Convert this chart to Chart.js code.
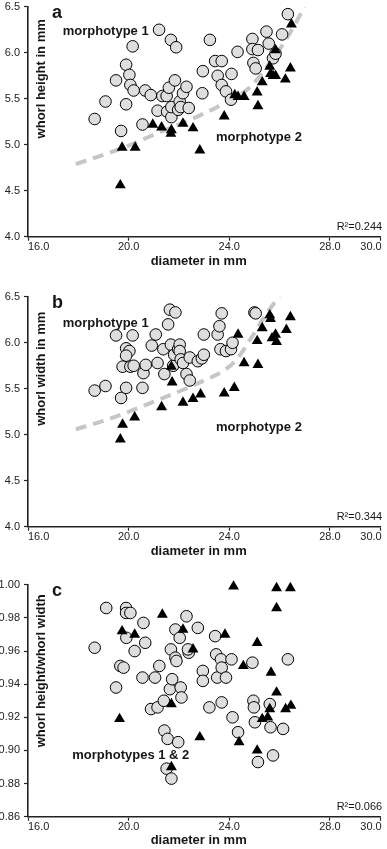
<!DOCTYPE html>
<html>
<head>
<meta charset="utf-8">
<script src="https://cdn.jsdelivr.net/npm/chart.js@4.4.1/dist/chart.umd.min.js"></script>
<style>
  html, body { margin: 0; padding: 0; background: #fff; }
  #wrap { position: relative; width: 387px; height: 849px; overflow: hidden; }
  canvas { position: absolute; left: 0; }
</style>
</head>
<body>
<div id="wrap">
  <canvas id="ca" width="387" height="290" style="top:0px"></canvas>
  <canvas id="cb" width="387" height="290" style="top:290px"></canvas>
  <canvas id="cc" width="387" height="271" style="top:578px"></canvas>
</div>
<script>
// ---------- tick labels ----------
const xTicks = [16, 20, 24, 28, 30];
const xTickLabels = ['16.0', '20.0', '24.0', '28.0', '30.0'];
const yTicksAB = [4.0, 4.5, 5.0, 5.5, 6.0, 6.5];
const yTickLabelsAB = ['4.0', '4.5', '5.0', '5.5', '6.0', '6.5'];
const yTicksC = [0.86, 0.88, 0.90, 0.92, 0.94, 0.96, 0.98, 1.00];
const yTickLabelsC = ['0.86', '0.88', '0.90', '0.92', '0.94', '0.96', '0.98', '1.00'];

// ---------- texts ----------
const xTitle = 'diameter in mm';
const yTitles = ['whorl height in mm', 'whorl width in mm', 'whorl height/whorl width'];
const panelLetters = ['a', 'b', 'c'];
const r2Texts = ['R\u00B2=0.244', 'R\u00B2=0.344', 'R\u00B2=0.066'];
const seriesNames = ['morphotype 1', 'morphotype 2', 'morphotypes 1 & 2'];

// ---------- panel a: whorl height ----------
const aCircleX = [18.65,19.08,19.50,19.70,19.90,20.03,19.90,20.07,20.16,20.20,20.55,20.66,20.88,21.15,21.21,21.34,21.51,21.60,21.53,21.68,21.70,21.70,21.84,21.89,21.97,22.03,22.07,22.16,22.30,22.39,22.95,22.93,23.23,23.44,23.54,23.70,23.70,23.87,24.09,24.07,24.33,24.92,24.92,24.96,25.05,25.14,25.48,25.57,25.74,25.84,26.10,26.33];
const aCircleY = [5.28,5.47,5.70,5.15,5.87,5.76,5.44,5.65,6.07,5.59,5.22,5.59,5.54,5.37,6.25,5.53,5.53,5.62,5.36,6.14,5.30,5.41,5.70,6.06,5.38,5.47,5.41,5.56,5.63,5.40,5.80,5.56,6.14,5.91,5.75,5.91,5.65,5.58,5.77,5.49,6.01,6.15,6.04,5.89,5.83,6.03,6.23,6.10,5.94,5.99,6.20,6.42];
const aTriX = [19.67,19.74,20.26,20.96,21.31,21.68,21.70,22.16,22.56,22.83,23.80,24.22,24.35,24.59,25.11,25.14,25.31,25.61,25.64,25.74,25.84,25.84,26.23,26.43,26.47];
const aTriY = [4.56,4.97,4.97,5.22,5.19,5.12,5.16,5.23,5.18,4.94,5.31,5.54,5.52,5.52,5.57,5.42,5.68,5.85,5.77,5.75,5.75,6.03,5.71,5.83,6.31];
const aFitX = [17.9, 19.0, 20.0, 21.0, 22.0, 23.0, 24.0, 24.8, 25.5, 26.2, 27.0];
const aFitY = [4.79, 4.89, 4.99, 5.11, 5.22, 5.34, 5.48, 5.62, 5.85, 6.12, 6.50];

// ---------- panel b: whorl width ----------
const bCircleX = [18.65,19.08,19.50,19.70,19.90,20.03,19.90,19.76,20.07,20.16,20.20,19.90,20.55,20.59,20.68,20.92,21.08,21.15,21.42,21.38,21.57,21.64,21.68,21.77,21.86,21.81,21.97,22.03,22.03,22.07,22.16,22.30,22.43,22.43,22.75,22.91,22.99,22.99,23.54,23.61,23.70,23.65,23.87,24.07,24.13,25.00,25.05];
const bCircleY = [5.48,5.53,6.08,5.40,5.94,5.91,5.86,5.74,5.74,6.08,5.75,5.51,5.51,5.67,5.76,5.97,6.09,5.78,5.66,5.93,6.20,6.36,5.98,5.75,6.33,5.87,5.93,5.98,5.91,5.82,5.78,5.66,5.59,5.84,5.80,5.83,5.87,6.09,6.09,6.18,6.32,5.93,5.91,5.93,6.00,6.33,6.32];
const bTriX = [19.67,19.76,20.24,21.31,21.70,21.73,22.16,22.56,22.86,23.80,24.20,24.35,24.59,25.11,25.14,25.31,25.61,25.64,25.70,25.84,25.88,26.27,26.43];
const bTriY = [4.95,5.11,5.19,5.30,5.74,5.57,5.35,5.39,5.44,5.45,5.51,6.09,5.78,6.02,5.76,6.16,6.30,6.26,6.05,6.09,6.01,6.14,6.28];
const bFitX = [17.9, 19.0, 20.0, 21.0, 22.0, 23.0, 23.8, 24.3, 24.8, 25.3, 25.7, 26.0];
const bFitY = [5.06, 5.15, 5.25, 5.36, 5.47, 5.59, 5.70, 5.82, 6.02, 6.24, 6.40, 6.50];

// ---------- panel c: ratio ----------
const cCircleX = [18.65,19.11,19.50,19.67,19.80,19.90,19.90,20.07,19.91,20.24,20.59,20.55,20.66,20.89,21.05,21.15,21.22,21.40,21.42,21.51,21.55,21.64,21.68,21.73,21.70,21.86,21.86,21.90,21.97,22.03,22.07,22.10,22.30,22.39,22.36,22.75,22.95,22.95,23.21,23.44,23.48,23.52,23.67,23.70,23.70,23.87,24.09,24.13,24.35,24.92,24.96,24.98,25.02,25.14,25.61,25.64,25.74,26.14,26.33];
const cCircleY = [0.962,0.986,0.938,0.951,0.950,0.986,0.983,0.983,0.968,0.960,0.977,0.944,0.965,0.925,0.944,0.926,0.951,0.930,0.912,0.889,0.907,0.937,0.961,0.943,0.883,0.973,0.956,0.954,0.905,0.968,0.938,0.932,0.981,0.959,0.961,0.974,0.948,0.942,0.926,0.969,0.958,0.944,0.955,0.950,0.929,0.944,0.955,0.920,0.911,0.953,0.930,0.926,0.917,0.893,0.928,0.914,0.897,0.913,0.955];
const cTriX = [19.64,19.74,20.24,21.34,21.70,21.70,22.16,22.56,22.83,23.83,24.17,24.39,24.56,25.11,25.11,25.31,25.53,25.66,25.61,25.88,25.88,25.88,26.24,26.43,26.45];
const cTriY = [0.919,0.972,0.970,0.982,0.928,0.890,0.973,0.961,0.908,0.970,0.999,0.905,0.951,0.965,0.900,0.919,0.920,0.947,0.925,0.998,0.986,0.935,0.925,0.998,0.927];

// ---------- helpers ----------
const FONT = '"Liberation Sans", Arial, Helvetica, sans-serif';
const TXT = '#161616';
const zip = (xs, ys) => xs.map((v, i) => ({x: v, y: ys[i]}));

const annotPlugin = {
  id: 'annot',
  afterDraw(chart) {
    const o = chart.options.plugins.annot;
    const {ctx, chartArea: ca} = chart;
    const xs = chart.scales.x, ys = chart.scales.y;
    ctx.save();
    ctx.fillStyle = TXT;
    ctx.font = 'bold 18px ' + FONT;
    ctx.textAlign = 'left';
    ctx.textBaseline = 'middle';
    ctx.fillText(o.letter, ca.left + 24, ca.top + 6);
    ctx.font = 'bold 13px ' + FONT;
    ctx.save();
    ctx.translate(ca.left + 13, ca.top + o.yTitleCenter);
    ctx.rotate(-Math.PI / 2);
    ctx.textAlign = 'center';
    ctx.fillText(o.yTitle, 0, 0);
    ctx.restore();
    ctx.textAlign = 'left';
    o.labels.forEach(l => ctx.fillText(l.text, xs.getPixelForValue(l.x), ys.getPixelForValue(l.y)));
    ctx.font = '11px ' + FONT;
    ctx.textAlign = 'right';
    ctx.fillText(o.r2, ca.right + 2, ca.bottom - 10);
    ctx.restore();
  }
};

function makeChart(canvasId, p) {
  const H = document.getElementById(canvasId).height;
  const xAxisH = p.xAxisH;
  return new Chart(document.getElementById(canvasId), {
    type: 'scatter',
    data: {
      datasets: [
        {
          data: zip(p.triX, p.triY),
          pointStyle: 'triangle',
          pointRadius: 6.3,
          backgroundColor: '#000',
          borderColor: '#000',
          borderWidth: 0,
          clip: false
        },
        {
          data: zip(p.cirX, p.cirY),
          pointStyle: 'circle',
          pointRadius: 5.8,
          backgroundColor: '#dedede',
          borderColor: '#000',
          borderWidth: 1,
          clip: false
        },
        {
          data: p.fitX ? zip(p.fitX, p.fitY) : [],
          showLine: true,
          pointRadius: 0,
          borderColor: '#c6c6c6',
          borderWidth: 4,
          borderDash: [11, 7],
          borderCapStyle: 'butt',
          tension: 0.4,
          cubicInterpolationMode: 'monotone',
          fill: false
        }
      ]
    },
    options: {
      responsive: false,
      animation: false,
      devicePixelRatio: 1,
      events: [],
      layout: { padding: { top: p.areaTop, bottom: H - p.areaBottom - xAxisH, left: 0, right: 3 } },
      plugins: {
        legend: { display: false },
        tooltip: { enabled: false },
        annot: p.annot
      },
      scales: {
        x: {
          type: 'linear',
          min: 16, max: 30,
          afterBuildTicks: s => { s.ticks = xTicks.map(v => ({value: v})); },
          afterFit: s => { s.height = xAxisH; s.paddingLeft = 0; s.paddingRight = 0; },
          ticks: {
            autoSkip: false, maxRotation: 0, minRotation: 0, padding: 0,
            color: '#222', font: { family: FONT, size: 11 },
            callback: (v, i) => {
              const t = xTickLabels[xTicks.indexOf(v)];
              if (i === 0) return '       ' + t;
              if (i === xTicks.length - 1) return t + '      ';
              return t;
            }
          },
          grid: { display: true, drawOnChartArea: false, drawTicks: true, tickLength: 4, tickColor: '#222', tickWidth: 1.2 },
          border: { display: true, color: '#222', width: 1.6 },
          title: { display: true, text: xTitle + '   ', color: TXT, font: { family: FONT, size: 13, weight: 'bold' }, padding: { top: 0, bottom: 0 } }
        },
        y: {
          type: 'linear',
          min: p.yMin, max: p.yMax,
          afterBuildTicks: s => { s.ticks = p.yTicks.map(v => ({value: v})); },
          afterFit: s => { s.width = 28; s.paddingTop = 0; s.paddingBottom = 0; },
          ticks: {
            autoSkip: false, padding: 4,
            color: '#222', font: { family: FONT, size: 11 },
            callback: v => p.yTickLabels[p.yTicks.findIndex(t => Math.abs(t - v) < 1e-9)]
          },
          grid: { display: true, drawOnChartArea: false, drawTicks: true, tickLength: 4, tickColor: '#222', tickWidth: 1.2 },
          border: { display: true, color: '#222', width: 1.6 }
        }
      }
    },
    plugins: [annotPlugin]
  });
}

makeChart('ca', {
  areaTop: 5, areaBottom: 236.7, xAxisH: 33,
  yMin: 4.0, yMax: 6.5, yTicks: yTicksAB, yTickLabels: yTickLabelsAB,
  cirX: aCircleX, cirY: aCircleY, triX: aTriX, triY: aTriY, fitX: aFitX, fitY: aFitY,
  annot: { letter: panelLetters[0], yTitle: yTitles[0], yTitleCenter: 72, r2: r2Texts[0],
    labels: [ {text: seriesNames[0], x: 17.38, y: 6.23}, {text: seriesNames[1], x: 23.47, y: 5.08} ] }
});
makeChart('cb', {
  areaTop: 5, areaBottom: 236.7, xAxisH: 33,
  yMin: 4.0, yMax: 6.5, yTicks: yTicksAB, yTickLabels: yTickLabelsAB,
  cirX: bCircleX, cirY: bCircleY, triX: bTriX, triY: bTriY, fitX: bFitX, fitY: bFitY,
  annot: { letter: panelLetters[1], yTitle: yTitles[1], yTitleCenter: 72, r2: r2Texts[1],
    labels: [ {text: seriesNames[0], x: 17.38, y: 6.21}, {text: seriesNames[1], x: 23.47, y: 5.08} ] }
});
makeChart('cc', {
  areaTop: 6, areaBottom: 238.7, xAxisH: 32,
  yMin: 0.86, yMax: 1.00, yTicks: yTicksC, yTickLabels: yTickLabelsC,
  cirX: cCircleX, cirY: cCircleY, triX: cTriX, triY: cTriY, fitX: null, fitY: null,
  annot: { letter: panelLetters[2], yTitle: yTitles[2], yTitleCenter: 86, r2: r2Texts[2],
    labels: [ {text: seriesNames[2], x: 17.76, y: 0.897} ] }
});
</script>
</body>
</html>
